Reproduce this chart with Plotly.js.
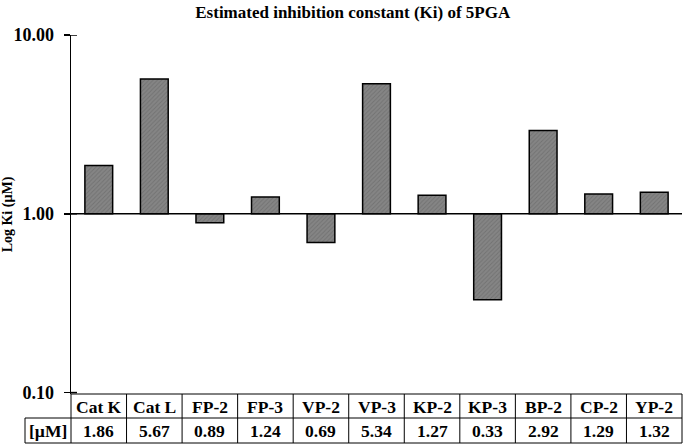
<!DOCTYPE html>
<html>
<head>
<meta charset="utf-8">
<script src="https://cdn.plot.ly/plotly-3.0.1.min.js"></script>
<style>html,body{margin:0;padding:0;background:#fff;}#chart{width:685px;height:445px;}</style>
</head>
<body>
<div id="chart"></div>
<script>
// ---- data ----
const categories = ["Cat K", "Cat L", "FP-2", "FP-3", "VP-2", "VP-3", "KP-2", "KP-3", "BP-2", "CP-2", "YP-2"];
const kiValues = [1.86, 5.67, 0.89, 1.24, 0.69, 5.34, 1.27, 0.33, 2.92, 1.29, 1.32];
const valueLabels = ["1.86", "5.67", "0.89", "1.24", "0.69", "5.34", "1.27", "0.33", "2.92", "1.29", "1.32"];
const baseValue = 1;
const tickValues = [0.1, 1, 10];
const unitLabel = "[µM]";
const chartTitle = "Estimated inhibition constant (Ki) of 5PGA";
const yTitle = "Log Ki (µM)";

const FONT = "Liberation Serif, Times New Roman, serif";
const font = (size) => ({family: FONT, size: size, color: "#000", weight: "bold"});

const trace = {
  type: "bar",
  x: categories,
  y: kiValues.map(v => v - baseValue),
  base: kiValues.map(() => baseValue),
  width: 0.5,
  marker: {
    color: "#808080",
    line: {color: "#000", width: 1.5},
    pattern: {shape: "/", bgcolor: "#858585", fgcolor: "#727272", size: 3, solidity: 0.3}
  },
  hoverinfo: "skip",
  cliponaxis: false
};

const n = categories.length;
const shapes = [];
// baseline at 1.0
shapes.push({type: "line", xref: "paper", yref: "y", x0: -0.011, x1: 1, y0: baseValue, y1: baseValue, line: {color: "#000", width: 1.5}});
// inner half of cross ticks
tickValues.forEach(t => {
  shapes.push({type: "line", xref: "paper", xsizemode: "pixel", xanchor: 0, x0: 0, x1: 6, yref: "y", y0: t, y1: t, line: {color: "#000", width: 1.5}});
});
// table lines
const rowH1 = -24, rowH2 = -49, leftPx = -46;
shapes.push({type: "line", xref: "paper", yref: "paper", x0: 0, x1: 1, y0: 0, y1: 0, line: {color: "#000", width: 1}});
shapes.push({type: "line", xref: "paper", xsizemode: "pixel", xanchor: 1, x0: leftPx - 611, x1: 0, yref: "paper", ysizemode: "pixel", yanchor: 0, y0: rowH1, y1: rowH1, line: {color: "#000", width: 1}});
shapes.push({type: "line", xref: "paper", xsizemode: "pixel", xanchor: 1, x0: leftPx - 611, x1: 0, yref: "paper", ysizemode: "pixel", yanchor: 0, y0: rowH2, y1: rowH2, line: {color: "#000", width: 1}});
for (let k = 0; k <= n; k++) {
  shapes.push({type: "line", xref: "paper", x0: k / n, x1: k / n, yref: "paper", ysizemode: "pixel", yanchor: 0, y0: 0, y1: rowH2, line: {color: "#000", width: 1}});
}
shapes.push({type: "line", xref: "paper", xsizemode: "pixel", xanchor: 0, x0: leftPx, x1: leftPx, yref: "paper", ysizemode: "pixel", yanchor: 0, y0: rowH1, y1: rowH2, line: {color: "#000", width: 1}});

const annotations = [];
categories.forEach((c, i) => {
  annotations.push({xref: "x", yref: "paper", x: c, y: 0, xanchor: "center", yanchor: "middle", yshift: -12.5, text: c, showarrow: false, font: font(17.5)});
  annotations.push({xref: "x", yref: "paper", x: c, y: 0, xanchor: "center", yanchor: "middle", yshift: -37, text: valueLabels[i], showarrow: false, font: font(17.5)});
});
annotations.push({xref: "paper", yref: "paper", x: 0, y: 0, xanchor: "center", xshift: leftPx / 2 - 0.5, yanchor: "middle", yshift: -37, text: unitLabel, showarrow: false, font: font(17.5)});

const layout = {
  width: 685, height: 445,
  margin: {l: 71, r: 3, t: 35, b: 51, pad: 0},
  paper_bgcolor: "#fff", plot_bgcolor: "#fff",
  showlegend: false,
  title: {text: chartTitle, font: font(17), xref: "container", x: 0.515, xanchor: "center", yref: "container", y: 0.972, yanchor: "middle"},
  xaxis: {type: "category", showticklabels: false, ticks: "", showline: false, showgrid: false, zeroline: false, range: [-0.5, n - 0.5], fixedrange: true},
  yaxis: {
    type: "log", range: [-1.008, 1], tickvals: tickValues, tickformat: ".2f",
    ticks: "outside", ticklen: 6, tickwidth: 1.5, tickcolor: "#000",
    showline: true, linecolor: "#000", linewidth: 1.5, showgrid: false, zeroline: false,
    tickfont: font(18), ticklabelstandoff: 6,
    title: {text: yTitle, font: font(14), standoff: 6},
    automargin: false, fixedrange: true
  },
  shapes: shapes,
  annotations: annotations,
  bargap: 0.5
};

Plotly.newPlot("chart", [trace], layout, {displayModeBar: false, staticPlot: true});
</script>
</body>
</html>
